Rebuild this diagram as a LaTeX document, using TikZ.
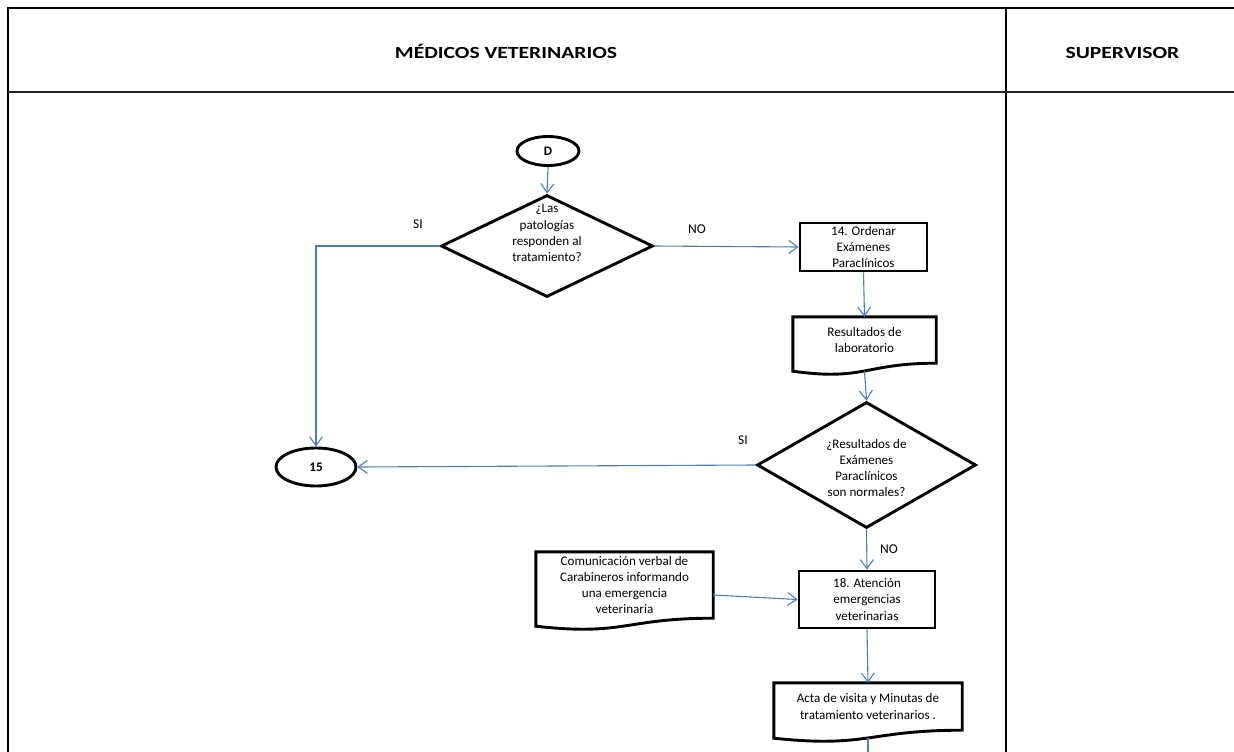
\documentclass[tikz,border=0pt]{standalone}
\usepackage{fontspec}
\usepackage{graphicx}
\setmainfont{Carlito}
\usetikzlibrary{shapes.geometric,arrows.meta}
\definecolor{flowblue}{RGB}{74,126,187}
\newcommand{\flowfont}{\fontsize{13.1}{16.3}\selectfont}
\newcommand{\lanetitle}[1]{\scalebox{1.27}[1]{\fontsize{17}{19}\selectfont\bfseries #1}}
\tikzset{lane/.style={black,line width=1.5pt},
  proc/.style={draw,line width=2.9pt,rectangle,align=center,inner sep=0pt},
  docu/.style={rectangle,align=center,inner sep=0pt},
  decision/.style={draw,line width=2.9pt,diamond,inner sep=0pt},
  term/.style={draw,line width=2.9pt,ellipse,inner sep=0pt,font=\flowfont\bfseries},
  flowline/.style={flowblue,line width=1.1pt},
  flow/.style={flowline,-{Straight Barb[length=9pt,width=13pt]}},
  answer/.style={font=\fontsize{13.5}{15}\selectfont}}
\newcommand{\docoutline}[1]{%
  \draw[line width=2.9pt] (#1.south east) -- (#1.north east) -- (#1.north west) -- ([yshift=-8pt]#1.south west)
    .. controls ([yshift=-18pt]#1.south) and (#1.south) .. (#1.south east) -- cycle;}

\begin{document}
\begin{tikzpicture}[x=1pt,y=-1pt,every node/.style={font=\flowfont}]
   \useasboundingbox (0,0) rectangle (1234,752);
   \begin{scope}
    \draw[lane] (1234,8) -- (8,8) -- (8,752);
    \draw[lane] (1006,8) -- (1006,752);
    \draw[lane,line width=2.2pt,black!85] (8,92) -- (1234,92);
    \node[anchor=base] (lane1) at (506,59) {\lanetitle{MÉDICOS VETERINARIOS}};
    \node[anchor=base] (lane2) at (1122.5,59) {\lanetitle{SUPERVISOR}};
   \end{scope}
   \begin{scope}
    \node[term,minimum width=62pt,minimum height=29pt] (D) at (548,151) {D};
    \node[decision,minimum width=212pt,minimum height=102pt,
      label={[align=center,yshift=13pt]center:{¿Las\\patologías\\responden al\\tratamiento?}}] (q1) at (547,246) {};
    \node[term,minimum width=80pt,minimum height=38pt] (c15) at (316,467) {15};
    \node[proc,minimum width=127pt,minimum height=48pt] (p14) at (863.5,247) {14. Ordenar\\Exámenes\\Paraclínicos};
    \node[docu,minimum width=143pt,minimum height=46pt] (res) at (864.5,340) {Resultados de\\laboratorio};
    \node[decision,minimum width=219pt,minimum height=126pt,
      label={[align=center,yshift=-3pt]center:{¿Resultados de\\Exámenes\\Paraclínicos\\son normales?}}] (q2) at (866.5,465) {};
    \node[docu,minimum width=177pt,minimum height=66pt] (com) at (624.5,585) {Comunicación verbal de\\Carabineros informando\\una emergencia\\veterinaria};
    \node[proc,minimum width=136pt,minimum height=57pt] (p18) at (867,599.5) {18. Atención\\emergencias\\veterinarias};
    \node[docu,minimum width=188pt,minimum height=47pt] (acta) at (868,706.5) {Acta de visita y Minutas de\\tratamiento veterinarios .};
    \coordinate (out) at (868,752);
    \docoutline{res}
    \docoutline{com}
    \docoutline{acta}
   \end{scope}
   \begin{scope}
    \node[answer] (si1) at (418,224) {SI};
    \node[answer] (no1) at (697,229) {NO};
    \node[answer] (si2) at (743,440) {SI};
    \node[answer] (no2) at (889,549) {NO};
   \end{scope}
   \draw[flow] (D.south) -- (q1.north);
   \draw[flow] (q1.west) -| (c15.north);
   \draw[flow] (q1.east) -- (p14.west);
   \draw[flow] (p14.south) -- (res.north);
   \draw[flow] ([yshift=-8pt]res.south) -- (q2.north);
   \draw[flow] (q2.west) -- (c15.east);
   \draw[flow] (q2.south) -- (p18.north);
   \draw[flow] ([yshift=-10pt]com.east) -- (p18.west);
   \draw[flow] (p18.south) -- (acta.north);
   \draw[flowline] ([yshift=-8pt]acta.south) -- (out);
  \end{tikzpicture}
\end{document}
